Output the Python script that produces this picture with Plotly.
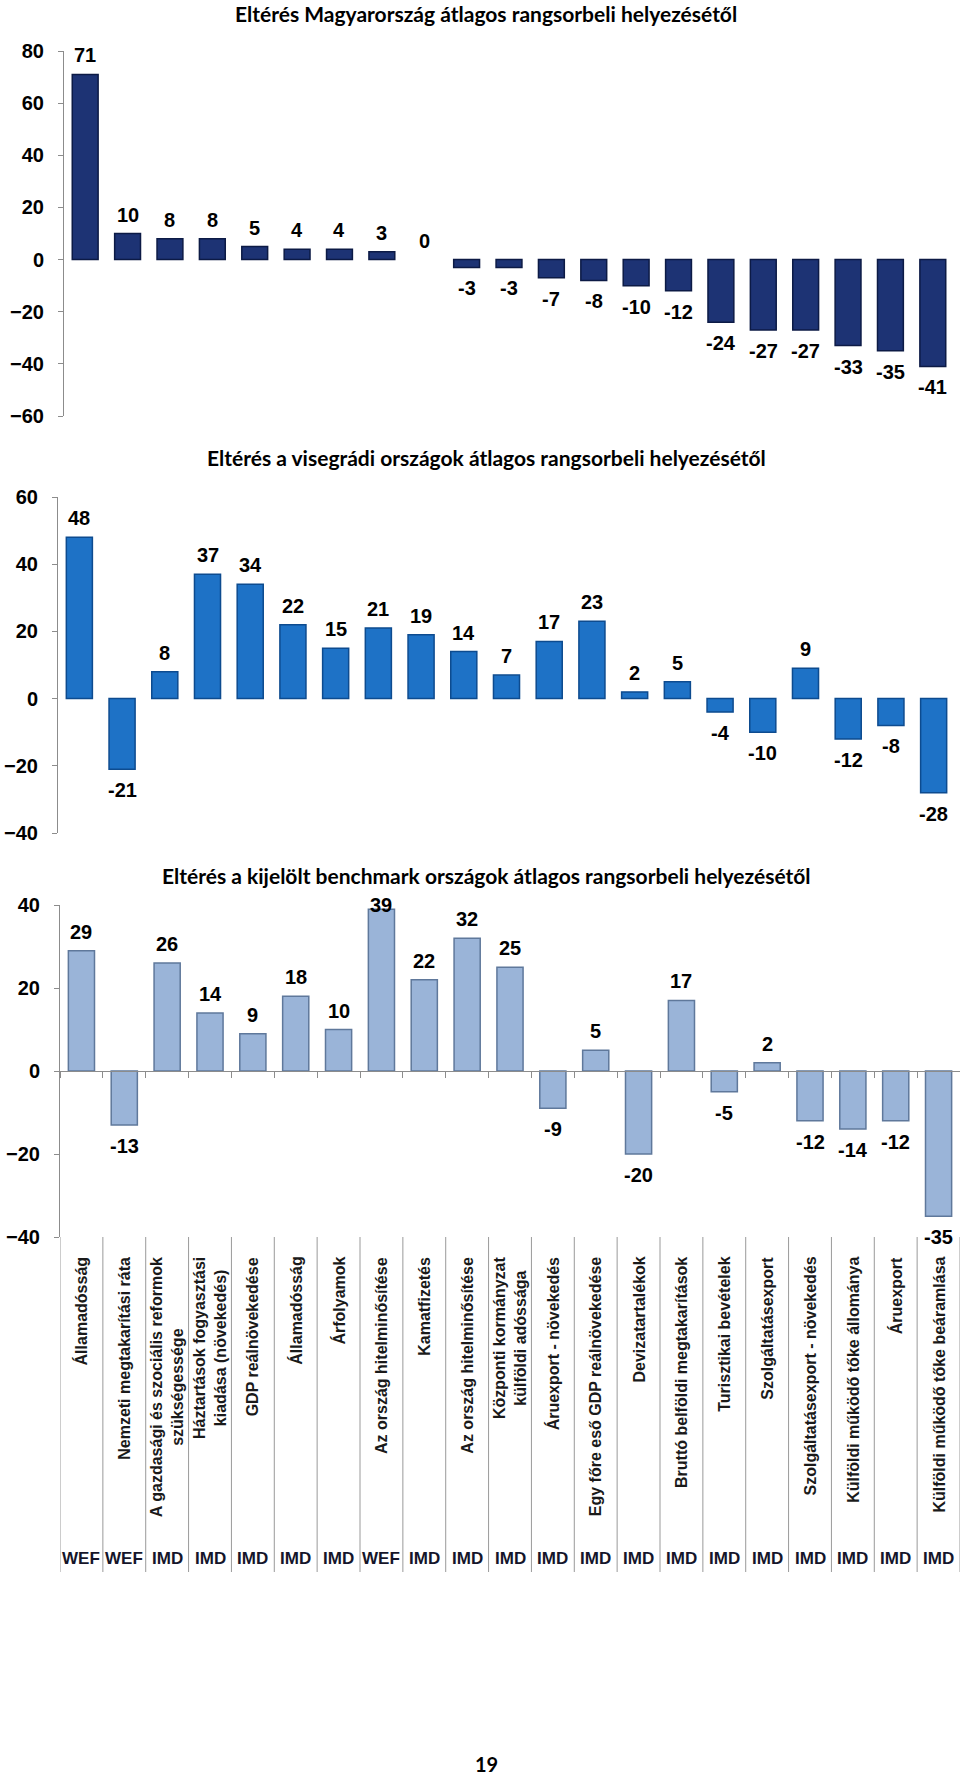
import plotly.graph_objects as go

W, H = 960, 1779

# ---------------- data ----------------
title1 = "Eltérés Magyarország átlagos rangsorbeli helyezésétől"
values1 = [71, 10, 8, 8, 5, 4, 4, 3, 0, -3, -3, -7, -8, -10, -12, -24, -27, -27, -33, -35, -41]
ticks1 = [-60, -40, -20, 0, 20, 40, 60, 80]

title2 = "Eltérés a visegrádi országok átlagos rangsorbeli helyezésétől"
values2 = [48, -21, 8, 37, 34, 22, 15, 21, 19, 14, 7, 17, 23, 2, 5, -4, -10, 9, -12, -8, -28]
ticks2 = [-40, -20, 0, 20, 40, 60]

title3 = "Eltérés a kijelölt benchmark országok átlagos rangsorbeli helyezésétől"
values3 = [29, -13, 26, 14, 9, 18, 10, 39, 22, 32, 25, -9, 5, -20, 17, -5, 2, -12, -14, -12, -35]
ticks3 = [-40, -20, 0, 20, 40]
categories3 = [
    "Államadósság",
    "Nemzeti megtakarítási ráta",
    "A gazdasági és szociális reformok<br>szükségessége",
    "Háztartások fogyasztási<br>kiadása (növekedés)",
    "GDP reálnövekedése",
    "Államadósság",
    "Árfolyamok",
    "Az ország hitelminősítése",
    "Kamatfizetés",
    "Az ország hitelminősítése",
    "Központi kormányzat<br>külföldi adóssága",
    "Áruexport - növekedés",
    "Egy főre eső GDP reálnövekedése",
    "Devizatartalékok",
    "Bruttó belföldi megtakarítások",
    "Turisztikai bevételek",
    "Szolgáltatásexport",
    "Szolgáltatásexport - növekedés",
    "Külföldi működő tőke állománya",
    "Áruexport",
    "Külföldi működő tőke beáramlása",
]
sources3 = ["WEF", "WEF", "IMD", "IMD", "IMD", "IMD", "IMD", "WEF", "IMD", "IMD", "IMD",
            "IMD", "IMD", "IMD", "IMD", "IMD", "IMD", "IMD", "IMD", "IMD", "IMD"]

page_number = "19"

# ---------------- layout helpers ----------------
def py(px):
    return 1 - px / H

NUM_FONT = "Liberation Sans, Arial, sans-serif"
TITLE_FONT = "Lato, Calibri, sans-serif"
AXIS_COLOR = "#8c8c8c"

charts = [
    dict(vals=values1, ticks=ticks1, title=title1, title_y=14, rng=[-60, 80],
         ypx=(416, 51), xpx=(64, 954), color="#1d3374", edge="#0c1a45"),
    dict(vals=values2, ticks=ticks2, title=title2, title_y=458, rng=[-40, 60],
         ypx=(833, 497), xpx=(58, 955), color="#1e72c6", edge="#0d4b8f"),
    dict(vals=values3, ticks=ticks3, title=title3, title_y=875, rng=[-40, 40],
         ypx=(1237, 905), xpx=(60, 960), color="#9ab4d8", edge="#5f789b"),
]

fig = go.Figure()
annotations = []
shapes = []
layout = {}

for k, c in enumerate(charts, start=1):
    xs = list(range(len(c["vals"])))
    xa = "x" if k == 1 else f"x{k}"
    ya = "y" if k == 1 else f"y{k}"
    fig.add_trace(go.Bar(
        x=xs, y=c["vals"], xaxis=xa, yaxis=ya, width=0.61,
        marker=dict(color=c["color"],
                    line=dict(color=c["edge"], width=[0 if v == 0 else 1.5 for v in c["vals"]])),
        showlegend=False, hoverinfo="x+y",
    ))
    ydom = [py(c["ypx"][0]), py(c["ypx"][1])]
    xdom = [c["xpx"][0] / W, c["xpx"][1] / W]
    xkey = "xaxis" if k == 1 else f"xaxis{k}"
    ykey = "yaxis" if k == 1 else f"yaxis{k}"
    layout[ykey] = dict(
        domain=ydom, range=c["rng"], anchor=xa, tickvals=c["ticks"],
        showline=True, linecolor=AXIS_COLOR, linewidth=1,
        ticks="outside", ticklen=5, tickcolor=AXIS_COLOR,
        showgrid=False, zeroline=False, ticklabelstandoff=10, automargin=False,
        tickfont=dict(family=NUM_FONT, size=20, color="#000", weight="bold"),
    )
    if k < 3:
        layout[xkey] = dict(domain=xdom, range=[-0.5, len(xs) - 0.5], anchor=ya,
                            visible=False)
    else:
        zero_pos = ydom[0] + (0 - c["rng"][0]) / (c["rng"][1] - c["rng"][0]) * (ydom[1] - ydom[0])
        layout[xkey] = dict(domain=xdom, range=[-0.5, len(xs) - 0.5], anchor="free",
                            position=zero_pos, showline=True, linecolor=AXIS_COLOR,
                            linewidth=1, ticks="outside", ticklen=6, tickcolor=AXIS_COLOR,
                            tickvals=[i - 0.5 for i in range(len(xs) + 1)],
                            showticklabels=False, showgrid=False, zeroline=False,
                            automargin=False)
    # title
    annotations.append(dict(
        text=c["title"], xref="paper", yref="paper", x=486 / W, y=py(c["title_y"]),
        xanchor="center", yanchor="middle", showarrow=False,
        font=dict(family=TITLE_FONT, size=21, color="#000", weight="bold"),
    ))
    # data labels
    top = c["rng"][1]
    for i, v in enumerate(c["vals"]):
        if v >= 0 and v > top - 3:
            # label sits at the top edge of the plot area (as in the original)
            ann = dict(y=top, yanchor="middle", yshift=0)
        elif v >= 0:
            ann = dict(y=v, yanchor="bottom", yshift=6)
        else:
            ann = dict(y=v, yanchor="top", yshift=-8)
        ann.update(dict(
            text=str(v), x=i, xref=xa, yref=ya, showarrow=False, xanchor="center",
            font=dict(family=NUM_FONT, size=20, color="#000", weight="bold"),
        ))
        annotations.append(ann)

# category table below chart 3
n3 = len(values3)
for i in range(n3 + 1):
    shapes.append(dict(type="line", xref="x3", yref="paper", x0=i - 0.5, x1=i - 0.5,
                       y0=py(1572), y1=py(1237), line=dict(color="#9a9a9a", width=1)))
for i, (lab, src) in enumerate(zip(categories3, sources3)):
    annotations.append(dict(
        text=lab, x=i, y=py(1255), xref="x3", yref="paper", showarrow=False,
        xanchor="center", yanchor="top", textangle=-90, align="center",
        font=dict(family=NUM_FONT, size=16, color="#1a1a1a", weight="bold"),
    ))
    annotations.append(dict(
        text=src, x=i, y=py(1558), xref="x3", yref="paper", showarrow=False,
        xanchor="center", yanchor="middle",
        font=dict(family=NUM_FONT, size=17, color="#15152a", weight="bold"),
    ))

annotations.append(dict(
    text=page_number, xref="paper", yref="paper", x=486 / W, y=py(1778),
    xanchor="center", yanchor="bottom", showarrow=False,
    font=dict(family=TITLE_FONT, size=20, color="#000", weight="bold"),
))

fig.update_layout(
    width=W, height=H, margin=dict(l=0, r=0, t=0, b=0, autoexpand=False),
    paper_bgcolor="white", plot_bgcolor="white",
    barmode="overlay", annotations=annotations, shapes=shapes,
    **layout,
)

fig.write_html(
    "out.html",
    config={"displayModeBar": False},
    post_script="document.body.style.margin='0';document.body.style.overflow='hidden';",
)
